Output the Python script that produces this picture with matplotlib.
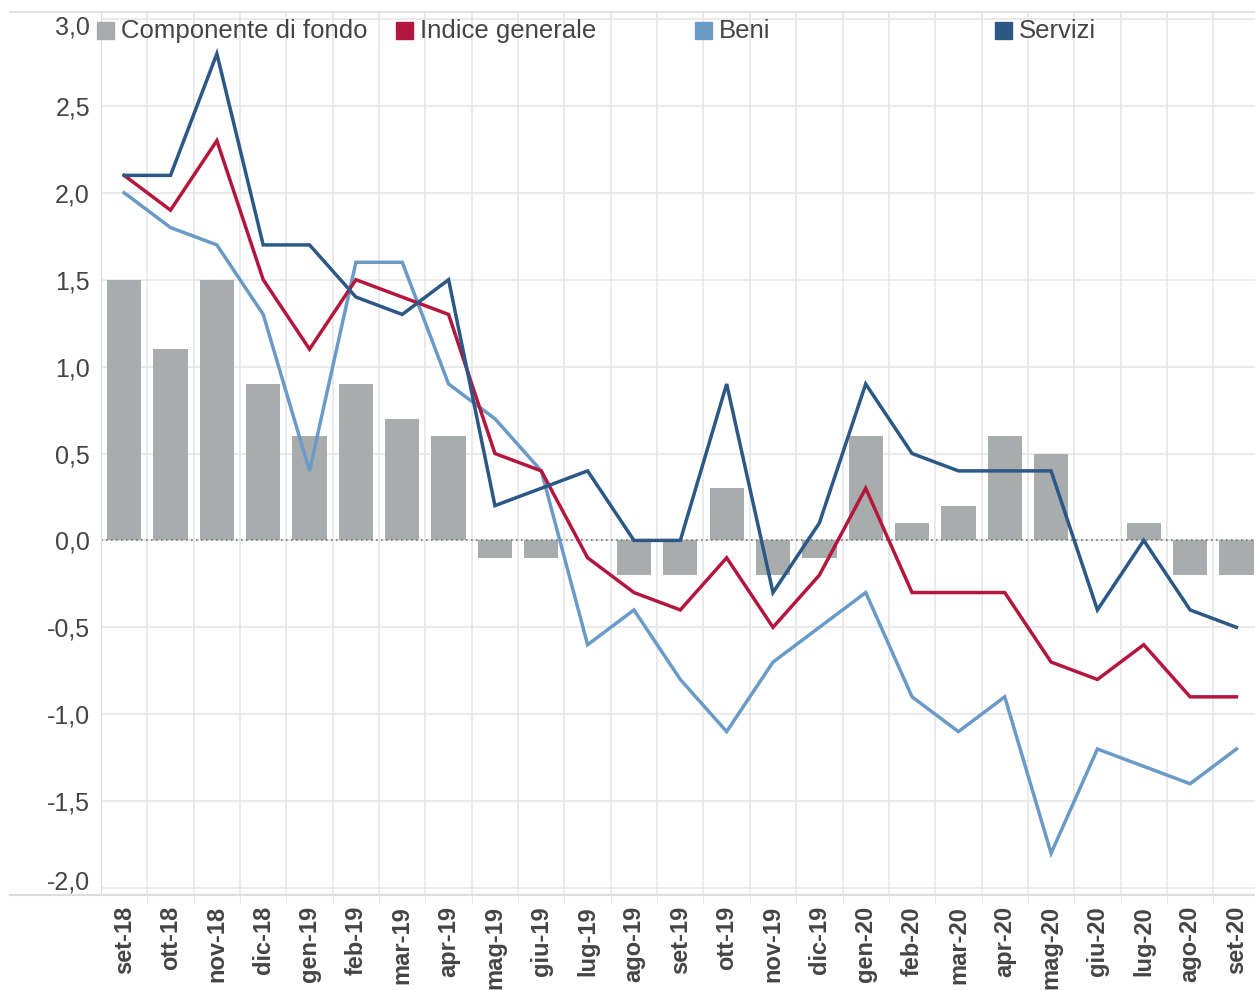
import numpy as np
import matplotlib.pyplot as plt
from matplotlib.patches import Rectangle
from matplotlib.lines import Line2D
from matplotlib.transforms import ScaledTranslation

plt.rcParams['font.family'] = ['Liberation Sans', 'DejaVu Sans']

# Dati
mesi = ['set-18', 'ott-18', 'nov-18', 'dic-18', 'gen-19', 'feb-19', 'mar-19', 'apr-19',
        'mag-19', 'giu-19', 'lug-19', 'ago-19', 'set-19', 'ott-19', 'nov-19', 'dic-19',
        'gen-20', 'feb-20', 'mar-20', 'apr-20', 'mag-20', 'giu-20', 'lug-20', 'ago-20', 'set-20']
fondo = [1.5, 1.1, 1.5, 0.9, 0.6, 0.9, 0.7, 0.6, -0.1, -0.1, 0.0, -0.2, -0.2, 0.3, -0.2, -0.1,
         0.6, 0.1, 0.2, 0.6, 0.5, 0.0, 0.1, -0.2, -0.2]
indice = [2.1, 1.9, 2.3, 1.5, 1.1, 1.5, 1.4, 1.3, 0.5, 0.4, -0.1, -0.3, -0.4, -0.1, -0.5, -0.2,
          0.3, -0.3, -0.3, -0.3, -0.7, -0.8, -0.6, -0.9, -0.9]
beni = [2.0, 1.8, 1.7, 1.3, 0.4, 1.6, 1.6, 0.9, 0.7, 0.4, -0.6, -0.4, -0.8, -1.1, -0.7, -0.5,
        -0.3, -0.9, -1.1, -0.9, -1.8, -1.2, -1.3, -1.4, -1.2]
servizi = [2.1, 2.1, 2.8, 1.7, 1.7, 1.4, 1.3, 1.5, 0.2, 0.3, 0.4, 0.0, 0.0, 0.9, -0.3, 0.1,
           0.9, 0.5, 0.4, 0.4, 0.4, -0.4, 0.0, -0.4, -0.5]

c_fondo = '#a9acad'
c_indice = '#b3173d'
c_beni = '#6a9bc6'
c_servizi = '#2b5884'

W, H = 1255, 990
fig = plt.figure(figsize=(W / 100, H / 100), dpi=100)
ax = fig.add_axes([101 / W, 1 - 895 / H, 1 - 101 / W, (895 - 12) / H])

x = np.arange(len(mesi))
ax.bar(x, fondo, width=0.74, color=c_fondo, zorder=2)
ax.axhline(0, color='#777777', lw=1.2, ls=(0, (1, 2)), zorder=2.5)
ax.plot(x, beni, color=c_beni, lw=2.5, zorder=3, solid_joinstyle='miter')
ax.plot(x, indice, color=c_indice, lw=2.5, zorder=3, solid_joinstyle='miter')
ax.plot(x, servizi, color=c_servizi, lw=2.5, zorder=4, solid_joinstyle='miter')

ax.set_xlim(-0.5, 24.4)
ax.set_ylim(-2.04, 3.04)

yt = np.arange(-2.0, 3.01, 0.5)
ax.set_yticks(yt)
ax.set_yticklabels([f'{v:.1f}'.replace('.', ',') for v in yt], fontsize=18, color='#444444')
ax.set_xticks(x)
ax.set_xticklabels(mesi, rotation=90, fontsize=17, fontweight='bold', color='#444444')
ax.set_xticks(np.arange(0.5, 24.5, 1), minor=True)
ax.tick_params(axis='both', which='major', length=0)
ax.tick_params(axis='x', which='major', pad=8)
ax.tick_params(axis='y', pad=8)
ax.tick_params(axis='x', which='minor', length=6, color='#e3e3e3')

# etichette estreme spostate verso l'interno
ylabs = ax.get_yticklabels()
ylabs[0].set_transform(ylabs[0].get_transform() + ScaledTranslation(0, 8 / 100, fig.dpi_scale_trans))
ylabs[-1].set_transform(ylabs[-1].get_transform() + ScaledTranslation(0, -6 / 100, fig.dpi_scale_trans))

ax.grid(True, axis='y', color='#e6e6e6', lw=1.2, zorder=0)
ax.grid(True, axis='x', which='minor', color='#e6e6e6', lw=1.2, zorder=0)
ax.set_axisbelow(True)

for s in ['top', 'right']:
    ax.spines[s].set_visible(False)
ax.spines['left'].set_color('#dddddd')
ax.spines['bottom'].set_visible(False)

# linee orizzontali su tutta la larghezza
fig.add_artist(Line2D([10 / W, 1], [1 - 12 / H] * 2, color='#e3e3e3', lw=1.5))
fig.add_artist(Line2D([10 / W, 1], [1 - 895 / H] * 2, color='#dddddd', lw=1.5))

# legenda
leg = [('Componente di fondo', c_fondo, 97), ('Indice generale', c_indice, 396),
       ('Beni', c_beni, 695), ('Servizi', c_servizi, 995)]
for lab, col, px in leg:
    fig.add_artist(Rectangle((px / W, 1 - 39 / H), 17 / W, 17 / H, color=col,
                             transform=fig.transFigure))
    fig.text((px + 24) / W, 1 - 31 / H, lab, fontsize=18.5, color='#444444', va='center', ha='left')

fig.savefig('out.png', dpi=100)
